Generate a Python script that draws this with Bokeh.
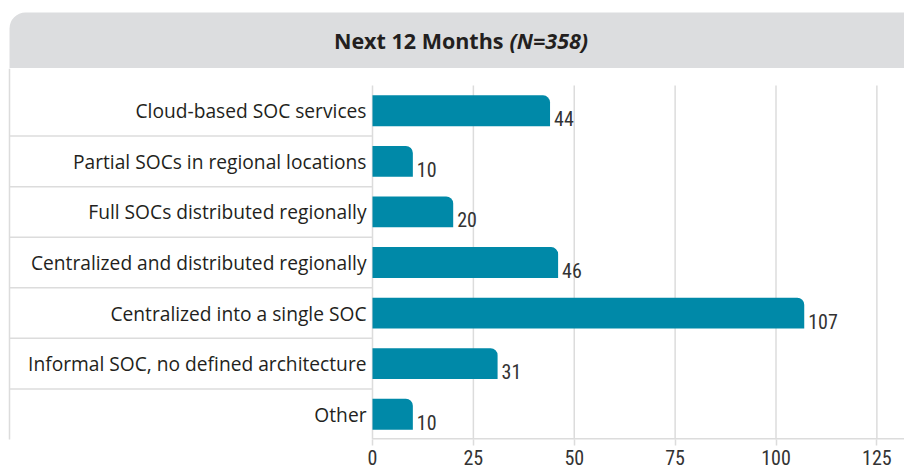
from bokeh.plotting import figure
from bokeh.layouts import column
from bokeh.models import Range1d, FixedTicker, ColumnDataSource
from bokeh.core.properties import value
from bokeh.embed import file_html
from bokeh.resources import INLINE

# ---- data ----
categories = [
    "Cloud-based SOC services",
    "Partial SOCs in regional locations",
    "Full SOCs distributed regionally",
    "Centralized and distributed regionally",
    "Centralized into a single SOC",
    "Informal SOC, no defined architecture",
    "Other",
]
counts = [44, 10, 20, 46, 107, 31, 10]
tick_values = [0, 25, 50, 75, 100, 125]
title_main = "Next 12 Months"
title_n = "(N=358)"

BAR = "#0089A8"
TEXT = "#231F20"
LINE = "#DCDCDC"
HEAD = "#DCDDDF"

W = 904
LABEL_FONT = "Open Sans"
NUM_FONT = "'Roboto Condensed', 'Noto Sans Condensed', 'Liberation Sans Narrow', Roboto"

# ---- header ----
h = figure(width=W, height=68, x_range=Range1d(0, W), y_range=Range1d(0, 68),
           output_backend="svg", toolbar_location=None,
           min_border=0, min_border_left=0, min_border_right=0,
           min_border_top=0, min_border_bottom=0)
h.axis.visible = False
h.grid.visible = False
h.outline_line_color = None
h.quad(left=[9], right=[W], bottom=[0], top=[56], fill_color=HEAD,
       line_color=None, border_radius=(16, 0, 0, 0))
h.text(x=[503], y=[28], text=[title_main], text_align="right",
       text_baseline="middle", text_font=value(LABEL_FONT), text_font_size="21.5px",
       text_font_style="bold", text_color=TEXT)
h.text(x=[509], y=[28], text=[title_n], text_align="left",
       text_baseline="middle", text_font=value(LABEL_FONT), text_font_size="21.5px",
       text_font_style="bold italic", text_color=TEXT)

# ---- main chart ----
n = len(categories)
ys = [n - 1 - i for i in range(n)]
px_per_row = 50.57
top_extra = 17 / px_per_row
ppu = 4.035
x0 = -372 / ppu
x1 = 532 / ppu

p = figure(width=W, height=403, x_range=Range1d(x0, x1),
           y_range=Range1d(-0.5, n - 0.5 + top_extra),
           output_backend="svg", toolbar_location=None,
           min_border_left=0, min_border_right=0, min_border_top=0,
           min_border_bottom=32)
p.outline_line_color = None
p.grid.visible = False
p.yaxis.visible = False
p.background_fill_color = "white"
p.border_fill_color = "white"

src = ColumnDataSource(dict(y=ys, v=counts, cat=categories,
                            lab=[str(c) for c in counts]))

# left border
bx = x0 + 9 / ppu
p.segment(x0=[bx], x1=[bx], y0=[-0.6], y1=[n - 0.5 + top_extra],
          line_color=LINE, line_width=1.5)
# vertical grid lines
p.segment(x0=tick_values, x1=tick_values, y0=[-0.5] * len(tick_values),
          y1=[n - 0.5] * len(tick_values), line_color=LINE, line_width=1.5)
# row separators in label area
seps = [i + 0.5 for i in range(n - 1)]
p.segment(x0=[bx] * len(seps), x1=[0] * len(seps), y0=seps, y1=seps,
          line_color=LINE, line_width=1.5)
# baseline
p.segment(x0=[0], x1=[x1], y0=[-0.5], y1=[-0.5], line_color=LINE, line_width=3)

p.hbar(y="y", right="v", left=0, height=0.61, source=src, fill_color=BAR,
       line_color=None, border_radius=(0, 7, 0, 0))

p.text(x=0, y="y", text="cat", source=src, x_offset=-6, text_align="right",
       text_baseline="middle", text_font=value(LABEL_FONT), text_font_size="19.2px",
       text_color=TEXT)
p.text(x="v", y="y", text="lab", source=src, x_offset=4, y_offset=8,
       text_align="left", text_baseline="alphabetic", text_font=value(NUM_FONT),
       text_font_size="20px", text_color="#333333")

ax = p.xaxis[0]
ax.ticker = FixedTicker(ticks=tick_values)
ax.axis_line_color = None
ax.major_tick_line_color = LINE
ax.major_tick_line_width = 1.5
ax.major_tick_out = 6
ax.major_tick_in = 0
ax.minor_tick_line_color = None
ax.major_label_text_font = NUM_FONT
ax.major_label_text_font_size = "20px"
ax.major_label_text_color = "#333333"
ax.major_label_standoff = 4

layout = column(h, p, spacing=0)
open("out.html", "w").write(file_html(layout, INLINE))
